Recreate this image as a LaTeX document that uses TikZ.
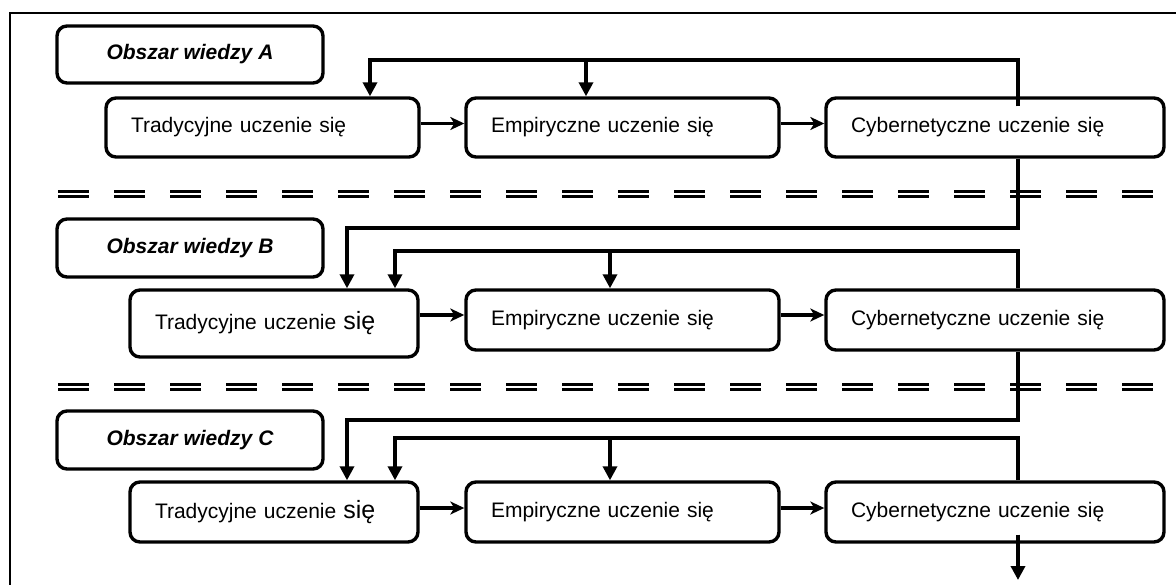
\documentclass[tikz,border=0pt]{standalone}
\usepackage{fontspec}
\setmainfont{Liberation Sans}
\usetikzlibrary{arrows.meta,calc}
\begin{document}
\begin{tikzpicture}[x=1pt,y=-1pt,
  box/.style={draw, line width=3.4pt, rounded corners=10pt, inner ysep=0pt,
    font=\fontsize{21}{25}\selectfont},
  lbox/.style={box, align=left, inner xsep=25pt},
  obox/.style={box, inner sep=0pt, minimum width=266pt,
    font=\fontsize{21}{25}\selectfont\bfseries\itshape},
  conn/.style={line width=3.4pt},
  varr/.style={conn, -{Triangle[length=14pt,width=14pt]}},
  harr/.style={conn, -{Stealth[length=14pt,width=13pt,inset=4pt]}},
  sep/.style={line width=2.3pt, dash pattern=on 31pt off 25pt},
  frame/.style={line width=2pt}
]
\useasboundingbox (0,0) rectangle (1176,584);
% frame (only the left and top sides are visible)
\draw[frame] (10,600) -- (10,13) -- (1190,13);
% separators
\foreach \yy in {191.5,196.5,384.5,389.5}
  \draw[sep] (58,\yy) -- (1154,\yy);

% row A
\node[obox, minimum height=57pt] (oA) at (190,54.5) {Obszar wiedzy A};
\node[lbox, text width=263pt, minimum height=59pt] (tA) at (262.5,127.5) {Tradycyjne uczenie się};
\node[lbox, text width=263pt, minimum height=59pt] (eA) at (622.5,127.5) {Empiryczne uczenie się};
\node[lbox, text width=288pt, minimum height=59pt] (cA) at (995,127.5) {Cybernetyczne uczenie się};
% row B
\node[obox, minimum height=58pt] (oB) at (190,248) {Obszar wiedzy B};
\node[lbox, text width=238pt, minimum height=67pt] (tB) at (274,323.5) {Tradycyjne uczenie {\fontsize{25}{25}\selectfont się}};
\node[lbox, text width=263pt, minimum height=60pt] (eB) at (622.5,320) {Empiryczne uczenie się};
\node[lbox, text width=288pt, minimum height=60pt] (cB) at (995,320) {Cybernetyczne uczenie się};
% row C
\node[obox, minimum height=58pt] (oC) at (190,440) {Obszar wiedzy C};
\node[lbox, text width=238pt, minimum height=60pt] (tC) at (274,512) {Tradycyjne uczenie {\fontsize{25}{25}\selectfont się}};
\node[lbox, text width=263pt, minimum height=60pt] (eC) at (622.5,512) {Empiryczne uczenie się};
\node[lbox, text width=288pt, minimum height=60pt] (cC) at (995,512) {Cybernetyczne uczenie się};

% horizontal arrows
\draw[harr] ($(tA.east)+(0,-4)$) -- ($(eA.west)+(0,-4)$);
\draw[harr] ($(eA.east)+(0,-4)$) -- ($(cA.west)+(0,-4)$);
\draw[harr] ($(tB.east |- eB.west)+(0,-5)$) -- ($(eB.west)+(0,-5)$);
\draw[harr] ($(eB.east)+(0,-5)$) -- ($(cB.west)+(0,-5)$);
\draw[harr] ($(tC.east)+(0,-4)$) -- ($(eC.west)+(0,-4)$);
\draw[harr] ($(eC.east)+(0,-4)$) -- ($(cC.west)+(0,-4)$);

% feedback loop coordinates
\coordinate (fx) at (1018,0);
\coordinate (a1) at (1018,60);
\coordinate (a2) at (370,60);
\coordinate (a3) at (586,60);
\coordinate (b1) at (1018,228);
\coordinate (b2) at (347,228);
\coordinate (b3) at (1018,251);
\coordinate (b4) at (395,251);
\coordinate (b5) at (610,251);
\coordinate (c1) at (1018,420);
\coordinate (c2) at (347,420);
\coordinate (c3) at (1018,438);
\coordinate (c4) at (395,438);
\coordinate (c5) at (610,438);
\coordinate (endC) at (1018,580);

% row A loop
\draw[varr] ($(fx |- cA.north)+(0,10)$) -- (a1) -- (a2) -- (a2 |- tA.north);
\draw[varr] (a3) -- (a3 |- eA.north);
% A -> B
\draw[varr] (fx |- cA.south) -- (b1) -- (b2) -- (b2 |- tB.north);
% row B loop
\draw[varr] (fx |- cB.north) -- (b3) -- (b4) -- (b4 |- tB.north);
\draw[varr] (b5) -- (b5 |- eB.north);
% B -> C
\draw[varr] (fx |- cB.south) -- (c1) -- (c2) -- (c2 |- tC.north);
% row C loop
\draw[varr] (fx |- cC.north) -- (c3) -- (c4) -- (c4 |- tC.north);
\draw[varr] (c5) -- (c5 |- eC.north);
% C -> out
\draw[varr] ($(fx |- cC.south)+(0,-9)$) -- (endC);
\end{tikzpicture}
\end{document}
